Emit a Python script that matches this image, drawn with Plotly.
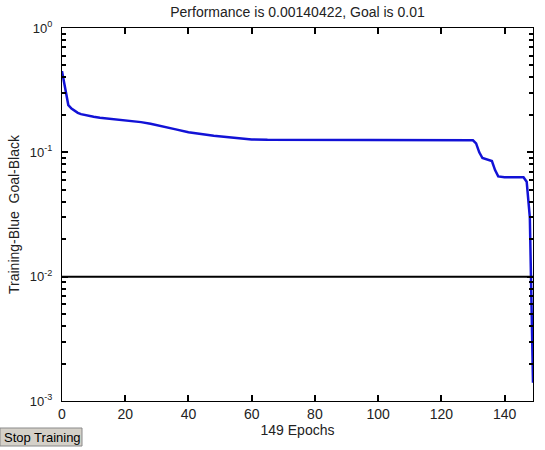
import plotly.graph_objects as go

# Training performance
epochs = [0, 1, 2, 3, 4, 5, 6, 8, 10, 12, 15, 18, 20, 22, 24, 25, 28, 30, 33, 36,
          40, 44, 48, 52, 56, 60, 65, 70, 80, 90, 100, 110, 120, 128, 130,
          131, 132, 133, 134, 135, 136, 137, 138, 140, 143, 146, 147, 148, 149]
perf = [0.45, 0.32, 0.24, 0.225, 0.215, 0.208, 0.203, 0.197, 0.193, 0.19, 0.187, 0.184,
        0.182, 0.18, 0.178, 0.175, 0.17, 0.165, 0.16, 0.153,
        0.145, 0.14, 0.136, 0.133, 0.13, 0.127, 0.126, 0.126, 0.126, 0.126, 0.126, 0.126,
        0.126, 0.126, 0.125,
        0.118, 0.1, 0.09, 0.088, 0.087, 0.085, 0.072, 0.064, 0.063, 0.063, 0.063, 0.058,
        0.03, 0.0014]
goal = 0.01
goal_x = [0, 149]
x_ticks = [0, 20, 40, 60, 80, 100, 120, 140]
y_ticks = [1e-3, 1e-2, 1e-1, 1e0]
y_tick_text = ["10<sup>-3</sup>", "10<sup>-2</sup>", "10<sup>-1</sup>", "10<sup>0</sup>"]
y_minor = [m * d for d in (1e-3, 1e-2, 1e-1) for m in range(2, 10)]

font_family = "Liberation Sans, Arial, sans-serif"

fig = go.Figure()
fig.add_trace(go.Scatter(x=goal_x, y=[goal, goal], mode="lines", yaxis="y2",
                         line=dict(color="black", width=2), showlegend=False))
fig.add_trace(go.Scatter(x=epochs, y=perf, mode="lines",
                         line=dict(color="#1212d6", width=2.5), showlegend=False))

W, H = 545, 450
L, R, T, B = 62, 12, 28, 49
pw, ph = W - L - R, H - T - B

def px(xp):
    return (xp - L) / pw

def py(yp):
    return (H - B - yp) / ph

fig.update_layout(
    width=W, height=H,
    margin=dict(l=L, r=R, t=T, b=B),
    paper_bgcolor="white", plot_bgcolor="white",
    font=dict(family=font_family, size=14, color="#222"),
    title=dict(text="Performance is 0.00140422, Goal is 0.01",
               x=0.5, xref="paper", xanchor="center",
               y=1 - 12 / H, yref="container", yanchor="middle",
               font=dict(size=14, color="#222")),
    xaxis=dict(range=[0, 149], tickvals=x_ticks, ticks="inside", ticklen=6,
               tickcolor="black", tickwidth=1.5, tickfont=dict(size=14),
               showline=True, linecolor="black", linewidth=1, mirror="ticks",
               showgrid=False, zeroline=False, layer="above traces",
               title=dict(text="149 Epochs", standoff=4, font=dict(size=14))),
    yaxis=dict(type="log", range=[-3, 0], tickvals=y_ticks, ticktext=y_tick_text,
               ticks="inside", ticklen=6, tickcolor="black", tickwidth=1.5,
               tickfont=dict(size=13), layer="above traces",
               showline=True, linecolor="black", linewidth=1, mirror="ticks",
               showgrid=False, zeroline=False, ticklabelstandoff=6,
               title=dict(text="Training-Blue  Goal-Black", standoff=6, font=dict(size=14))),
    yaxis2=dict(type="log", range=[-3, 0], overlaying="y", side="left",
                tickvals=y_minor, showticklabels=False,
                ticks="inside", ticklen=4, tickcolor="black", tickwidth=1.5,
                showline=True, linecolor="black", linewidth=1, mirror="ticks",
                showgrid=False, zeroline=False),
)

# Stop Training button
fig.add_shape(type="rect", xref="paper", yref="paper",
              x0=px(0), x1=px(82), y0=py(446), y1=py(428),
              fillcolor="#d4d0c8", line=dict(color="#8a8a8a", width=1))
fig.add_annotation(text="Stop Training", xref="paper", yref="paper",
                   x=px(2), y=py(437), xanchor="left", yanchor="middle",
                   showarrow=False, font=dict(size=13, color="black"))

fig.write_html("out.html")
